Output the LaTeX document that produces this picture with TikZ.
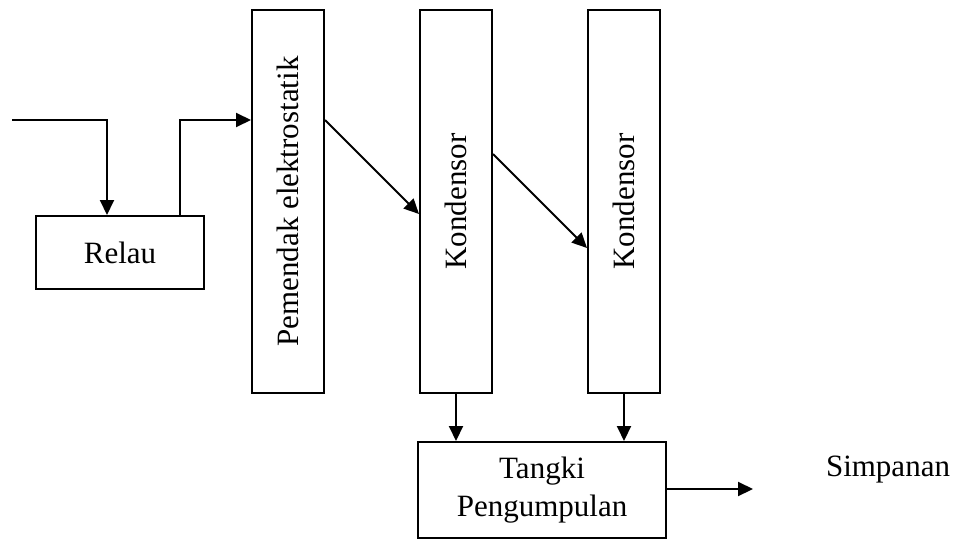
\documentclass[tikz,border=0pt]{standalone}
\usepackage{fontspec}
\setmainfont{Liberation Serif}
\usetikzlibrary{arrows.meta}

\begin{document}
\begin{tikzpicture}[x=0.5pt,y=-0.5pt,line width=1pt,arr/.style={-{Triangle[length=7.5pt,width=7pt]}},box/.style={rectangle,draw,line width=1pt,inner sep=0pt,font=\fontsize{15.5}{19}\selectfont,align=center}]

                \useasboundingbox (0,0) rectangle (961,540);

                \node[box, minimum width=84pt, minimum height=36.5pt] (relau) at (120,252.5) {Relau};
                \node[box, minimum width=36pt, minimum height=191.5pt] (pem) at (288,201.5) {\rotatebox{90}{Pemendak elektrostatik}};
                \node[box, minimum width=36pt, minimum height=191.5pt] (kond1) at (456,201.5) {\rotatebox{90}{Kondensor}};
                \node[box, minimum width=36pt, minimum height=191.5pt] (kond2) at (624,201.5) {\rotatebox{90}{Kondensor}};
                \node[box, minimum width=124pt, minimum height=48pt] (tangki) at (542,490) {Tangki\\Pengumpulan};
                \node[font=\fontsize{15.5}{19}\selectfont] (simpan) at (888,470) {Simpanan};

                \coordinate (in) at (12,120);
                \coordinate (out) at (753,489);

                \draw[arr] (in) -| ([xshift=-6.5pt]relau.north);
                \draw[arr] ([xshift=30pt]relau.north) |- (pem.west |- in);
                \draw[arr] (pem.east |- in) -- ([yshift=-6.25pt]kond1.west);
                \draw[arr] ([yshift=23.75pt]kond1.east) -- ([yshift=-23.25pt]kond2.west);
                \draw[arr] (kond1.south) -- (kond1.south |- tangki.north);
                \draw[arr] (kond2.south) -- (kond2.south |- tangki.north);
                \draw[arr] (tangki.east |- out) -- (out);

            \end{tikzpicture}
\end{document}
